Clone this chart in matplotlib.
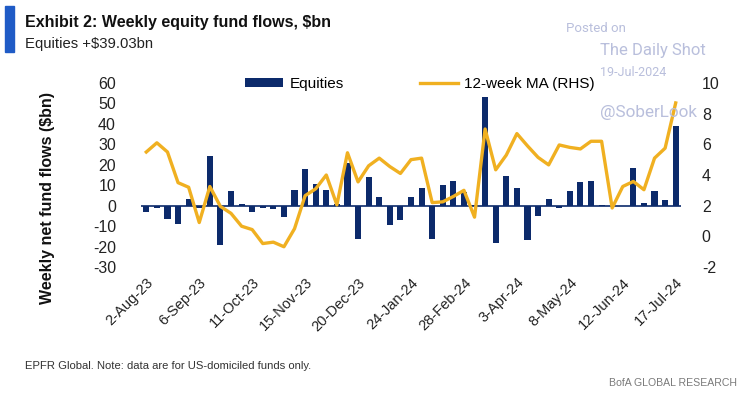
import numpy as np
import pandas as pd
import matplotlib.pyplot as plt
from matplotlib.patches import Rectangle

# ── Data ──────────────────────────────────────────────────────────────────────
weeks = pd.date_range("2023-08-02", periods=51, freq="7D")

equities = [-3, -1, -6.5, -9, 3.5, -1, 24.5, -19, 7, 1,
            -3, -1, -1.5, -5.5, 7.5, 18, 10.5, 7.5, 1, 21,
            -16.5, 14, 4, -9.5, -7, 4.4, 8.5, -16.5, 10, 12.3,
            6.5, 0.5, 53, -18.5, 14.7, 8.5, -17, -5, 3.2, -1,
            7.3, 11.7, 12.2, 0.5, 0, 0, 18.2, 1.5, 7.4, 3, 39.03]

ma12 = [5.5, 6.1, 5.5, 3.5, 3.2, 0.9, 3.25, 1.95, 1.5, 0.66,
        0.44, -0.47, -0.38, -0.68, 0.5, 2.65, 3.1, 4.0, 2.05, 5.45,
        3.55, 4.6, 5.1, 4.55, 4.1, 5.0, 5.1, 2.2, 2.25, 2.6,
        3.0, 1.25, 7.0, 4.34, 5.3, 6.7, 5.9, 5.15, 4.66, 5.96,
        5.8, 5.7, 6.2, 6.2, 1.85, 3.25, 3.58, 3.04, 5.1, 5.75, 8.7]

tick_labels = ["2-Aug-23", "6-Sep-23", "11-Oct-23", "15-Nov-23", "20-Dec-23",
               "24-Jan-24", "28-Feb-24", "3-Apr-24", "8-May-24", "12-Jun-24",
               "17-Jul-24"]

NAVY = "#0c2a6b"
GOLD = "#f0b021"
plt.rcParams["font.family"] = ["Liberation Sans", "DejaVu Sans"]
plt.rcParams["axes.unicode_minus"] = False

# ── Plot ──────────────────────────────────────────────────────────────────────
fig = plt.figure(figsize=(7.42, 3.95), dpi=100)
W, H = 742, 395
ax = fig.add_axes([141 / W, 1 - 267 / H, (681 - 141) / W, (267 - 83) / H])
ax2 = ax.twinx()

x = np.arange(len(weeks))
ax.bar(x, equities, width=0.58, color=NAVY, label="Equities", zorder=2)
ax.axhline(0, color=NAVY, linewidth=1.2, zorder=3)
ax2.plot(x, ma12, color=GOLD, linewidth=2.4, label="12-week MA (RHS)")

ax.set_xlim(-0.5, len(weeks) - 0.5)
ax.set_ylim(-30, 60)
ax2.set_ylim(-2, 10)
ax.set_yticks(range(-30, 61, 10))
ax2.set_yticks(range(-2, 11, 2))
ax.set_xticks(x[::5])
ax.set_xticklabels(tick_labels, rotation=45, ha="right", rotation_mode="anchor",
                   fontsize=10.5, color="#222222")

for a in (ax, ax2):
    for s in a.spines.values():
        s.set_visible(False)
    a.tick_params(length=0, colors="#222222")
    a.tick_params(axis="y", labelsize=11.5)
ax.tick_params(axis="y", pad=18)
ax.tick_params(axis="x", pad=6)
ax2.tick_params(axis="y", pad=15)

# legend drawn as two separate entries
fig.legend(handles=[ax.patches[0]], labels=["Equities"], loc="center left",
           bbox_to_anchor=(245 / W, 1 - 84 / H), frameon=False, fontsize=11,
           handlelength=2.5, handleheight=0.45, handletextpad=0.4,
           borderpad=0, borderaxespad=0)
fig.legend(handles=ax2.get_lines(), labels=["12-week MA (RHS)"], loc="center left",
           bbox_to_anchor=(420 / W, 1 - 84 / H), frameon=False, fontsize=11,
           handlelength=2.5, handletextpad=0.4, borderpad=0, borderaxespad=0)

# ── Titles and notes ──────────────────────────────────────────────────────────
fig.patches.append(Rectangle((5 / W, 1 - 52 / H), 9 / W, 46 / H,
                             transform=fig.transFigure, color="#1f5bc6"))
fig.text(25 / W, 1 - 22 / H, "Exhibit 2: Weekly equity fund flows, $bn",
         fontsize=11.5, fontweight="bold", va="center", color="#111111")
fig.text(25 / W, 1 - 44 / H, "Equities +$39.03bn", fontsize=10.7,
         va="center", color="#222222")
fig.text(48 / W, 1 - 198 / H, "Weekly net fund flows ($bn)", rotation=90,
         fontsize=11.5, fontweight="bold", ha="center", va="center", color="#111111")
fig.text(25 / W, 1 - 366 / H, "EPFR Global. Note: data are for US-domiciled funds only.",
         fontsize=8.1, va="center", color="#333333")
fig.text(737 / W, 1 - 383 / H, "BofA GLOBAL RESEARCH", fontsize=7.6,
         ha="right", va="center", color="#7a7a7a")

# watermark
wm = "#b9bfdc"
wm_font = ["Roboto", "DejaVu Sans"]
fig.text(566 / W, 1 - 29 / H, "Posted on", fontsize=9.5, color=wm, va="center",
         family=wm_font)
fig.text(600 / W, 1 - 50 / H, "The Daily Shot", fontsize=12, color=wm, va="center",
         family=wm_font)
fig.text(600 / W, 1 - 73 / H, "19-Jul-2024", fontsize=9, color=wm, va="center",
         family=wm_font)
fig.text(600 / W, 1 - 112 / H, "@SoberLook", fontsize=12.3, color=wm, va="center",
         family=wm_font)

fig.savefig("out.png", dpi=100)
